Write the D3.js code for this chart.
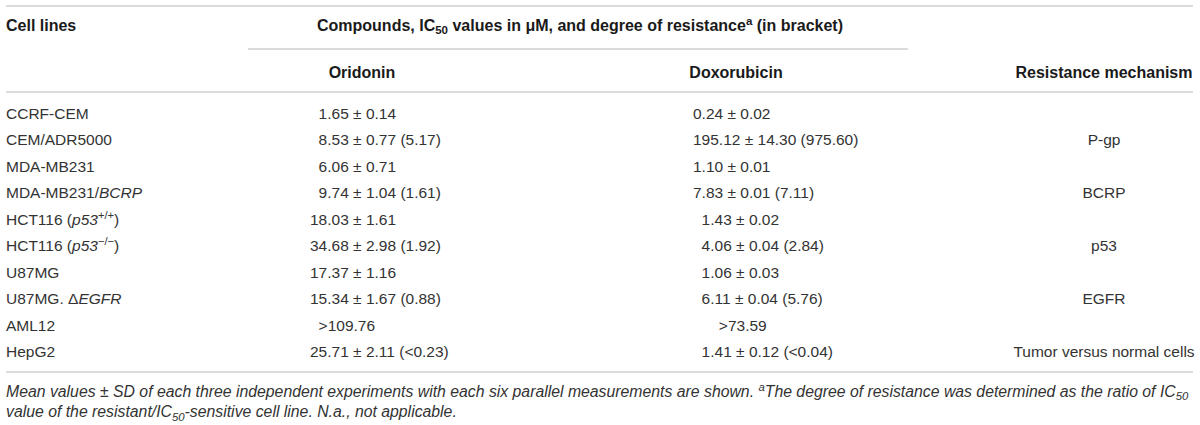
<!DOCTYPE html>
<html>
<head>
<meta charset="utf-8">
<script src="https://cdn.jsdelivr.net/npm/d3@7/dist/d3.min.js"></script>
<style>
  html, body { margin: 0; padding: 0; background: #fff; }
  svg { display: block; }
</style>
</head>
<body>
<div id="chart"></div>
<script>
// ---------- DATA ----------
const cellLines = [
  "CCRF-CEM",
  "CEM/ADR5000",
  "MDA-MB231",
  "MDA-MB231/<i>BCRP</i>",
  "HCT116 (<i>p53</i><sup>+/+</sup>)",
  "HCT116 (<i>p53</i><sup>−/−</sup>)",
  "U87MG",
  "U87MG. Δ<i>EGFR</i>",
  "AML12",
  "HepG2"
];
const oridonin = [
  "\u20071.65 ± 0.14",
  "\u20078.53 ± 0.77 (5.17)",
  "\u20076.06 ± 0.71",
  "\u20079.74 ± 1.04 (1.61)",
  "18.03 ± 1.61",
  "34.68 ± 2.98 (1.92)",
  "17.37 ± 1.16",
  "15.34 ± 1.67 (0.88)",
  "\u2007>109.76",
  "25.71 ± 2.11 (<0.23)"
];
const doxorubicin = [
  "0.24 ± 0.02",
  "195.12 ± 14.30 (975.60)",
  "1.10 ± 0.01",
  "7.83 ± 0.01 (7.11)",
  "\u20071.43 ± 0.02",
  "\u20074.06 ± 0.04 (2.84)",
  "\u20071.06 ± 0.03",
  "\u20076.11 ± 0.04 (5.76)",
  "\u2007\u2007\u2007>73.59",
  "\u20071.41 ± 0.12 (<0.04)"
];
const mechanism = ["", "P-gp", "", "BCRP", "", "p53", "", "EGFR", "", "Tumor versus normal cells"];

const headerCell = "Cell lines";
const headerGroup = "Compounds, IC<sub>50</sub> values in μM, and degree of resistance<sup>a</sup> (in bracket)";
const headerColumns = ["Oridonin", "Doxorubicin", "Resistance mechanism"];
const footnotes = [
  "Mean values <n>±</n> SD of each three independent experiments with each six parallel measurements are shown. <sup>a</sup>The degree of resistance was determined as the ratio of IC<sub>50</sub>",
  "value of the resistant/IC<sub>50</sub>-sensitive cell line. N.a., not applicable."
];

// ---------- LAYOUT ----------
const W = 1200, H = 425;
const FONT = "'Liberation Sans', Arial, Helvetica, sans-serif";
const svg = d3.select("#chart").append("svg")
  .attr("width", W).attr("height", H)
  .style("font-family", FONT);

const rowY = d3.scaleBand().domain(d3.range(cellLines.length)).range([100, 365]).paddingInner(0).paddingOuter(0);
const colX = d3.scaleOrdinal().domain(["cell", "ori", "dox", "mech"]).range([6, 310, 693, 1104]);
const headX = d3.scaleOrdinal().domain(headerColumns).range([362, 736, 1104]);

// rich text parser: <i>, <sup>, <sub>, <n>
function rich(sel, str, baseSize) {
  const parts = str.split(/(<\/?(?:i|sup|sub|n)>)/);
  let italic = false, sup = false, sub = false, normal = false;
  let shift = 0;
  parts.forEach(p => {
    if (!p) return;
    const m = p.match(/^<(\/?)(i|sup|sub|n)>$/);
    if (m) {
      const on = m[1] !== "/";
      if (m[2] === "i") italic = on;
      if (m[2] === "sup") sup = on;
      if (m[2] === "sub") sub = on;
      if (m[2] === "n") normal = on;
      return;
    }
    const target = sup ? -baseSize * 0.38 : sub ? baseSize * 0.22 : 0;
    const t = sel.append("tspan").text(p);
    if (target - shift !== 0) t.attr("dy", target - shift);
    if (sup || sub) t.style("font-size", (baseSize * 0.72) + "px");
    if (italic) t.style("font-style", "italic");
    if (normal) t.style("font-style", "normal");
    shift = target;
  });
}

// ---------- RULES ----------
const ruleColor = "#cfcfcf";
const rules = [
  { x1: 6, x2: 1193, y: 6 },
  { x1: 248, x2: 908, y: 49 },
  { x1: 6, x2: 1193, y: 92 },
  { x1: 6, x2: 1193, y: 372 }
];
svg.selectAll("line.rule").data(rules).enter().append("line")
  .attr("class", "rule")
  .attr("x1", d => d.x1).attr("x2", d => d.x2)
  .attr("y1", d => d.y).attr("y2", d => d.y)
  .attr("stroke", ruleColor).attr("stroke-width", 1.6);

// ---------- HEADERS ----------
const hdr = svg.append("g").style("font-weight", "bold").style("font-size", "16px").attr("fill", "#1a1a1a");
hdr.append("text").attr("x", colX("cell")).attr("y", 25).attr("dy", "0.35em").text(headerCell);
const g1 = hdr.append("text").attr("x", 580).attr("y", 25).attr("dy", "0.35em").attr("text-anchor", "middle");
rich(g1, headerGroup, 16);
hdr.selectAll("text.col").data(headerColumns).enter().append("text")
  .attr("class", "col")
  .attr("x", d => headX(d)).attr("y", 72).attr("dy", "0.35em")
  .attr("text-anchor", "middle").text(d => d);

// ---------- BODY ----------
const body = svg.append("g").style("font-size", "15.5px").attr("fill", "#333");
const rows = body.selectAll("g.row").data(cellLines.map((c, i) => ({
  i, cell: c, ori: oridonin[i], dox: doxorubicin[i], mech: mechanism[i]
}))).enter().append("g").attr("class", "row")
  .attr("transform", d => `translate(0,${rowY(d.i) + rowY.bandwidth() / 2})`);

rows.each(function(d) {
  const g = d3.select(this);
  const tc = g.append("text").attr("x", colX("cell")).attr("dy", "0.35em");
  rich(tc, d.cell, 15.5);
  g.append("text").attr("x", colX("ori")).attr("dy", "0.35em").style("white-space", "pre").text(d.ori);
  g.append("text").attr("x", colX("dox")).attr("dy", "0.35em").style("white-space", "pre").text(d.dox);
  g.append("text").attr("x", colX("mech")).attr("dy", "0.35em").attr("text-anchor", "middle").text(d.mech);
});

// ---------- FOOTNOTE ----------
const fn = svg.append("g").style("font-size", "15.8px").style("font-style", "italic").attr("fill", "#333");
footnotes.forEach((f, i) => {
  const t = fn.append("text").attr("x", 6).attr("y", 391 + i * 20.5).attr("dy", "0.35em");
  rich(t, f, 15.8);
});
</script>
</body>
</html>
